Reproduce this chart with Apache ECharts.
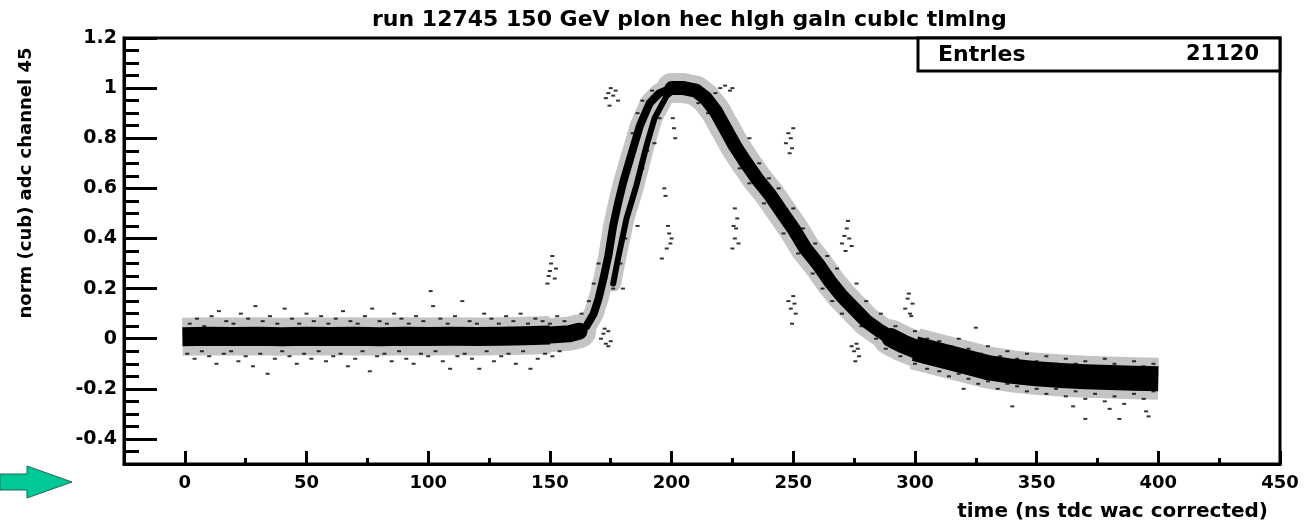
<!DOCTYPE html>
<html>
<head>
<meta charset="utf-8">
<script src="https://cdn.jsdelivr.net/npm/echarts@6/dist/echarts.min.js"></script>
<style>
html,body{margin:0;padding:0;background:#fff;}
#chart{width:1309px;height:522px;}
</style>
</head>
<body>
<div id="chart"></div>
<script>
// ---- data ----
const titleText = 'run 12745 150 GeV plon hec hlgh galn cublc tlmlng';
const xTitle = 'time (ns tdc wac corrected)';
const yTitle = 'norm (cub) adc channel 45';
const statsLabel = 'Entrles';
const statsValue = '21120';

const xMajorTicks = [0, 50, 100, 150, 200, 250, 300, 350, 400, 450];
const yMajorTicks = [-0.4, -0.2, 0, 0.2, 0.4, 0.6, 0.8, 1, 1.2];

// main band centre line (time, value)
const bandTime  = [-1, 10, 20, 30, 40, 50, 60, 70, 80, 90, 100, 110, 120, 130, 140, 150, 158,
  162, 165, 168, 170, 172, 174, 176, 178, 180, 183, 187, 191, 195, 200, 205, 210,
  214, 218, 222, 226, 230, 235, 240, 245, 250, 255, 260, 265, 270, 275, 280, 285, 290, 295,
  300, 310, 320, 330, 340, 350, 360, 370, 380, 390, 400];
const bandValue = [0.008, 0.01, 0.009, 0.01, 0.008, 0.01, 0.009, 0.01, 0.008, 0.01, 0.009, 0.01, 0.009, 0.01, 0.012, 0.015, 0.02,
  0.03, 0.05, 0.10, 0.16, 0.24, 0.33, 0.45, 0.54, 0.62, 0.72, 0.85, 0.94, 0.98, 1.0, 1.0, 0.99,
  0.96, 0.91, 0.84, 0.77, 0.71, 0.64, 0.58, 0.51, 0.44, 0.36, 0.30, 0.23, 0.17, 0.12, 0.07, 0.035, 0.005, -0.02,
  -0.04, -0.065, -0.09, -0.115, -0.13, -0.14, -0.147, -0.152, -0.155, -0.158, -0.16];

// second (later) rising branch
const branchTime  = [176, 178, 181.5, 185.5, 189.7, 193, 198, 202];
const branchValue = [0.22, 0.32, 0.48, 0.61, 0.77, 0.88, 0.97, 1.0];

// scattered entries away from the band core
const scatterPoints = [
  // baseline, above
  [2,0.06],[5,0.08],[8,0.05],[11,0.09],[14,0.11],[17,0.07],[20,0.06],[23,0.1],[26,0.08],[29,0.13],[32,0.07],[35,0.09],
  [38,0.06],[41,0.12],[44,0.08],[47,0.06],[50,0.1],[53,0.07],[56,0.09],[59,0.06],[62,0.08],[65,0.11],[68,0.07],[71,0.06],
  [74,0.09],[77,0.12],[80,0.07],[83,0.06],[86,0.1],[89,0.08],[92,0.06],[95,0.09],[98,0.07],[101,0.19],[102,0.13],[105,0.08],
  [108,0.06],[111,0.09],[114,0.15],[117,0.07],[120,0.06],[123,0.1],[126,0.08],[129,0.06],[132,0.09],[135,0.07],[138,0.1],
  [141,0.06],[144,0.08],[147,0.07],[150,0.06],[153,0.09],[156,0.07],
  // baseline, below
  [1,-0.06],[4,-0.08],[7,-0.05],[10,-0.07],[13,-0.1],[16,-0.06],[19,-0.05],[22,-0.09],[25,-0.07],[28,-0.11],[31,-0.06],
  [34,-0.14],[37,-0.08],[40,-0.05],[43,-0.07],[46,-0.1],[49,-0.06],[52,-0.08],[55,-0.05],[58,-0.09],[61,-0.07],[64,-0.06],
  [67,-0.11],[70,-0.08],[73,-0.05],[76,-0.13],[79,-0.07],[82,-0.06],[85,-0.09],[88,-0.05],[91,-0.08],[94,-0.1],[97,-0.06],
  [100,-0.07],[103,-0.05],[106,-0.09],[109,-0.12],[112,-0.07],[115,-0.06],[118,-0.08],[121,-0.12],[124,-0.05],[127,-0.09],
  [130,-0.07],[133,-0.06],[136,-0.1],[139,-0.05],[142,-0.12],[145,-0.08],[148,-0.06],[151,-0.07],[154,-0.05],
  // clusters
  [149,0.22],[149.5,0.25],[150,0.27],[150.5,0.3],[151,0.33],[152,0.24],[152.5,0.28],
  [173,0.96],[174,0.98],[175,1.0],[176,0.97],[177,0.99],[178,0.95],[174.5,0.93],
  [171,0.0],[172,0.02],[173,-0.02],[174,0.03],[175,-0.01],[172.5,0.04],[174,-0.03],
  [197,0.6],[197.5,0.57],[199,0.42],[199.5,0.38],[198,0.36],[200,0.4],[196,0.32],[198.5,0.45],[201,0.84],[201.5,0.8],[200.5,0.88],
  [220,1.0],[222,1.01],[224,0.99],[225,1.0],
  [225,0.36],[226,0.4],[226.5,0.44],[227,0.48],[226,0.52],[227.5,0.38],[225.5,0.45],
  [247,0.78],[248,0.82],[249,0.8],[249.5,0.76],[248.5,0.74],[250,0.84],
  [248,0.15],[249,0.12],[250,0.17],[251,0.1],[249.5,0.06],[250.5,0.14],
  [270,0.38],[271,0.41],[272,0.44],[273,0.4],[274,0.37],[272.5,0.47],[271.5,0.35],
  [274,-0.03],[275,-0.05],[276,-0.02],[277,-0.07],[275.5,-0.09],[276.5,-0.04],
  [296,0.12],[297,0.16],[298,0.1],[299,0.14],[297.5,0.18],[298.5,0.09],
  // rise / fall fringe
  [163,0.1],[166,0.15],[168,0.22],[170,0.3],[179,0.3],[180,0.2],[176,0.2],[181,0.4],[184,0.55],[186,0.45],[188,0.68],
  [190,0.75],[184,0.82],[186,0.9],[188,0.95],[192,0.99],[193,0.78],[195,0.88],[211,0.94],[215,0.9],[218,0.98],[222,0.82],
  [228,0.68],[232,0.62],[232,0.8],[236,0.7],[238,0.54],[240,0.64],[244,0.5],[244,0.6],[246,0.42],[250,0.52],[252,0.34],
  [254,0.44],[258,0.26],[259,0.38],[262,0.2],[264,0.33],[266,0.15],[268,0.28],[270,0.1],[276,0.22],[278,0.05],[280,0.15],
  [284,0.0],[286,0.1],[288,-0.04],[292,0.05],[294,-0.07],
  // tail, above
  [300,0.03],[305,0.0],[310,-0.01],[315,-0.03],[318,0.0],[322,-0.04],[325,0.044],[327,-0.06],[330,-0.03],[335,-0.07],
  [338,-0.05],[342,-0.08],[346,-0.06],[350,-0.09],[354,-0.07],[358,-0.1],[362,-0.08],[366,-0.1],[370,-0.09],[374,-0.11],
  [378,-0.08],[382,-0.1],[386,-0.12],[390,-0.09],[394,-0.11],[398,-0.1],
  // tail, below
  [300,-0.1],[305,-0.12],[310,-0.13],[314,-0.15],[318,-0.14],[322,-0.16],[326,-0.18],[330,-0.17],[334,-0.2],[338,-0.18],
  [342,-0.19],[346,-0.21],[350,-0.2],[354,-0.22],[358,-0.2],[362,-0.23],[366,-0.21],[370,-0.24],[374,-0.22],[378,-0.25],
  [382,-0.23],[386,-0.26],[390,-0.22],[394,-0.24],[398,-0.21],[320,-0.2],[365,-0.27],[380,-0.28],[395,-0.29],
  [340,-0.27],[370,-0.32],[384,-0.32],[396,-0.31]
];

// ---- build ----
const FONT = '"DejaVu Sans", "Liberation Sans", sans-serif';
const band = bandTime.map((t, i) => [t, bandValue[i]]);
const branch = branchTime.map((t, i) => [t, branchValue[i]]);
const seg = (a, b) => band.filter(p => p[0] >= a && p[0] <= b);

const lineSeries = (data, w, cap) => ({
  type: 'line', data, xAxisIndex: 0, yAxisIndex: 0, symbol: 'none', silent: true,
  lineStyle: { color: '#000', width: w, cap: cap || 'round', join: 'round' }, z: 3
});
const haloSeries = (data, w, cap) => ({
  type: 'line', data, xAxisIndex: 0, yAxisIndex: 0, symbol: 'none', silent: true,
  lineStyle: { color: '#c4c4c4', width: w, cap: cap || 'round', join: 'round' }, z: 2
});

const chart = echarts.init(document.getElementById('chart'), null, { renderer: 'canvas' });
chart.setOption({
  animation: false,
  backgroundColor: '#fff',
  title: {
    text: titleText, left: 367, top: 4,
    textStyle: { fontFamily: FONT, fontWeight: 'bold', fontSize: 22, color: '#000' }
  },
  grid: { left: 124, right: 29, top: 38, bottom: 58, show: true, borderColor: '#000', borderWidth: 3, backgroundColor: 'transparent' },
  xAxis: [
    { type: 'value', min: -25, max: 450, interval: 25, position: 'bottom',
      axisLine: { show: true, onZero: false, lineStyle: { color: '#000', width: 3 } },
      axisTick: { show: true, inside: true, length: 6, lineStyle: { color: '#000', width: 3 } },
      axisLabel: { show: false }, splitLine: { show: false },
      name: xTitle, nameLocation: 'end', nameGap: -12,
      nameTextStyle: { fontFamily: FONT, fontWeight: 'bold', fontSize: 20, color: '#000', align: 'right', verticalAlign: 'top', padding: [38, 0, 0, 0] }
    },
    { type: 'value', min: -25, max: 450, position: 'bottom',
      axisLine: { show: false, onZero: false },
      axisTick: { show: true, inside: true, length: 13, customValues: xMajorTicks, lineStyle: { color: '#000', width: 3 } },
      axisLabel: { show: true, customValues: xMajorTicks, margin: 10, fontFamily: FONT, fontWeight: 'bold', fontSize: 18, color: '#000' },
      splitLine: { show: false }
    }
  ],
  yAxis: [
    { type: 'value', min: -0.5, max: 1.2, interval: 0.05, position: 'left',
      axisLine: { show: true, onZero: false, lineStyle: { color: '#000', width: 3 } },
      axisTick: { show: true, inside: true, length: 15, lineStyle: { color: '#000', width: 3 } },
      axisLabel: { show: false }, splitLine: { show: false }
    },
    { type: 'value', min: -0.5, max: 1.2, position: 'left',
      axisLine: { show: false, onZero: false },
      axisTick: { show: true, inside: true, length: 33, customValues: yMajorTicks, lineStyle: { color: '#000', width: 3 } },
      axisLabel: { show: true, customValues: yMajorTicks, margin: 7, fontFamily: FONT, fontWeight: 'bold', fontSize: 19, color: '#000',
        formatter: v => String(Math.round(v * 10) / 10) },
      splitLine: { show: false }
    }
  ],
  series: [
    haloSeries(seg(-1, 150), 38, 'butt'),
    haloSeries(seg(140, 162), 34),
    haloSeries(seg(158, 205), 20),
    haloSeries(branch, 16),
    haloSeries(seg(200, 300), 30),
    haloSeries(seg(290, 320), 36),
    haloSeries(seg(300, 400), 42, 'butt'),
    lineSeries(seg(-1, 150), 19, 'butt'),
    lineSeries(seg(140, 162), 17),
    lineSeries(seg(158, 205), 8),
    lineSeries(branch, 6),
    lineSeries(seg(200, 300), 14),
    lineSeries(seg(290, 320), 19),
    lineSeries(seg(300, 400), 25, 'butt'),
    { type: 'scatter', data: scatterPoints, xAxisIndex: 0, yAxisIndex: 0, symbol: 'rect', symbolSize: [4, 2],
      itemStyle: { color: '#000' }, silent: true, z: 4 }
  ],
  graphic: [
    { type: 'rect', shape: { x: 918, y: 38, width: 362, height: 33 }, style: { fill: '#fff', stroke: '#000', lineWidth: 3 }, z: 100 },
    { type: 'text', x: 938, y: 55, style: { text: statsLabel, fontFamily: FONT, fontWeight: 'bold', fontSize: 22, fill: '#000', verticalAlign: 'middle', align: 'left' }, z: 101 },
    { type: 'text', x: 1259, y: 55, style: { text: statsValue, fontFamily: FONT, fontWeight: 'bold', fontSize: 21, fill: '#000', verticalAlign: 'middle', align: 'right' }, z: 101 },
    { type: 'text', x: 26, y: 183, rotation: Math.PI / 2, style: { text: yTitle, fontFamily: FONT, fontWeight: 'bold', fontSize: 18, fill: '#000', verticalAlign: 'middle', align: 'center' }, z: 101 },
    { type: 'polygon', shape: { points: [[0,474],[27,474],[27,466],[72,482],[27,498],[27,490],[0,490]] },
      style: { fill: '#00c896', stroke: '#1f6b55', lineWidth: 1 }, z: 101 }
  ]
});
</script>
</body>
</html>
